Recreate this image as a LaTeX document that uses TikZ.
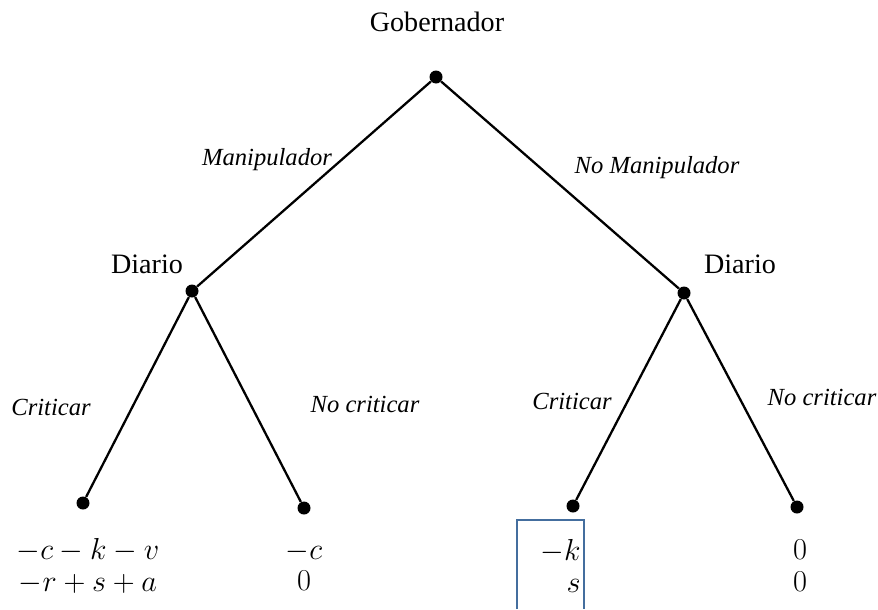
\documentclass[tikz,border=0pt]{standalone}
\usepackage{fontspec}
\setmainfont{Liberation Serif}
\usetikzlibrary{positioning}
\definecolor{boxblue}{RGB}{68,110,158}

\begin{document}
\begin{tikzpicture}[x=0.02cm, y=-0.02cm,
    font=\fontsize{16}{19}\selectfont,
    dot/.style={circle, fill=black, inner sep=0pt, minimum size=0.26cm},
    edge/.style={line width=1.3pt},
    move/.style={font=\fontsize{14}{17}\selectfont\itshape},
    payoff/.style={align=center, inner sep=0pt, font=\fontsize{16}{18}\selectfont}]
    \useasboundingbox (0,0) rectangle (878,609);
    % Decision nodes
    \node[dot] (gov) at (436,77) {};
    \node[dot] (dl) at (192,291) {};
    \node[dot] (dr) at (684,293) {};
    % Terminal nodes
    \node[dot] (ll) at (83,503) {};
    \node[dot] (lr) at (304,508) {};
    \node[dot] (rl) at (573,506) {};
    \node[dot] (rr) at (797,507) {};
    % Edges
    \draw[edge] (gov) -- (dl);
    \draw[edge] (gov) -- (dr);
    \draw[edge] (dl) -- (ll);
    \draw[edge] (dl) -- (lr);
    \draw[edge] (dr) -- (rl);
    \draw[edge] (dr) -- (rr);
    % Players
    \node (govlab) at (437,22) {Gobernador};
    \node (dllab) at (147,264) {Diario};
    \node (drlab) at (740,264) {Diario};
    % Moves
    \node[move] (manip) at (267,160) {Manipulador};
    \node[move] (nomanip) at (657,168) {No Manipulador};
    \node[move] (critl) at (51,407) {Criticar};
    \node[move] (nocritl) at (365,404) {No criticar};
    \node[move] (critr) at (572,401) {Criticar};
    \node[move] (nocritr) at (822,397) {No criticar};
    % Payoffs
    \node[payoff] (pll) at (88,566) {$-c-k-v$\\$-r+s+a$};
    \node[payoff] (plr) at (304,566) {$-c$\\$0$};
    \node[payoff, align=right, anchor=east] (prl) at (581,566) {$-k$\\$s$};
    \node[payoff] (prr) at (800,566) {$0$\\$0$};
    % Highlight
    \draw[boxblue, line width=1pt] (517,609) -- (517,520) -- (584,520) -- (584,609);
\end{tikzpicture}
\end{document}
